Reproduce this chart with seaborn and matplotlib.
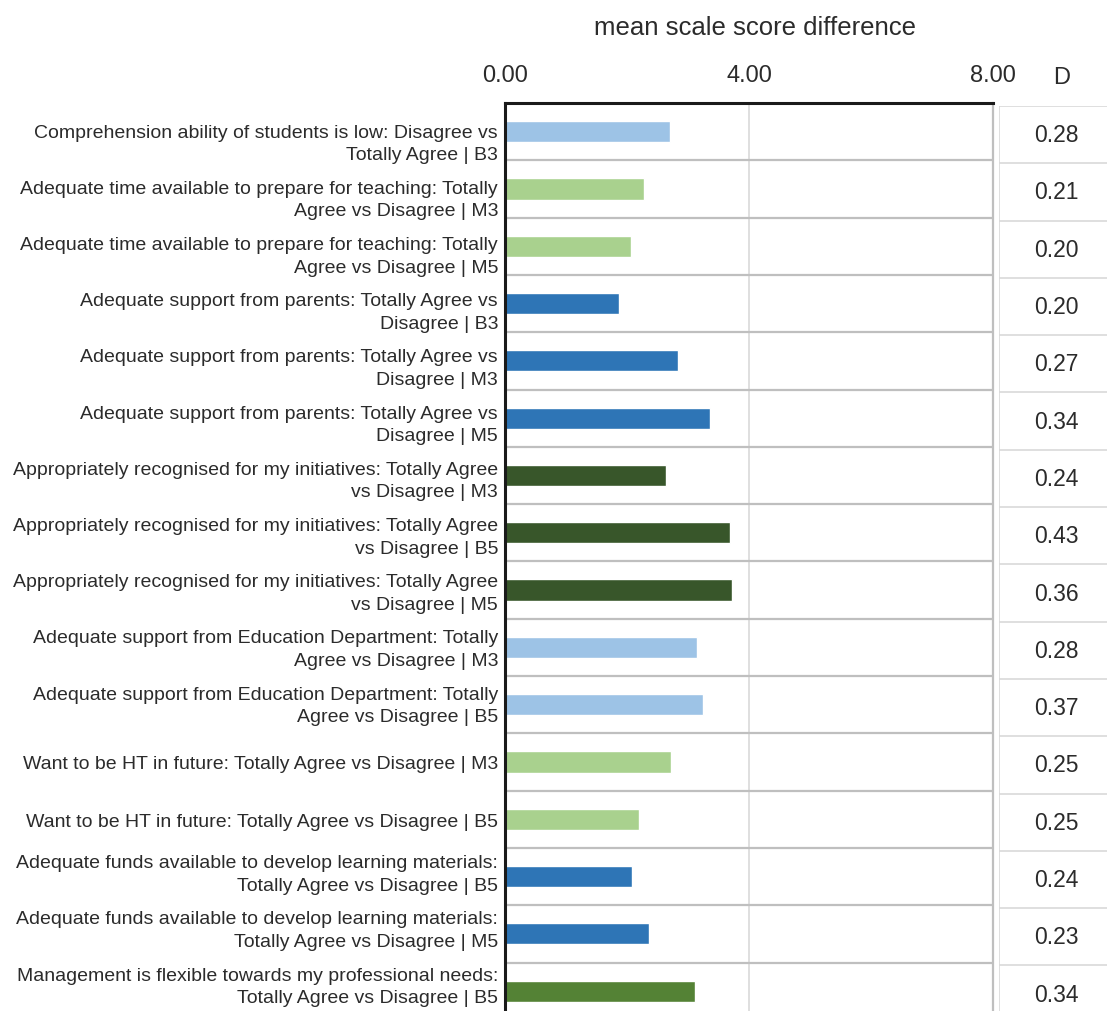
import pandas as pd
import matplotlib
matplotlib.use("Agg")
import matplotlib.pyplot as plt
import matplotlib.transforms as mtransforms
import seaborn as sns

# ---- data ----
labels = [
    "Comprehension ability of students is low: Disagree vs\nTotally Agree | B3",
    "Adequate time available to prepare for teaching: Totally\nAgree vs Disagree | M3",
    "Adequate time available to prepare for teaching: Totally\nAgree vs Disagree | M5",
    "Adequate support from parents: Totally Agree vs\nDisagree | B3",
    "Adequate support from parents: Totally Agree vs\nDisagree | M3",
    "Adequate support from parents: Totally Agree vs\nDisagree | M5",
    "Appropriately recognised for my initiatives: Totally Agree\nvs Disagree | M3",
    "Appropriately recognised for my initiatives: Totally Agree\nvs Disagree | B5",
    "Appropriately recognised for my initiatives: Totally Agree\nvs Disagree | M5",
    "Adequate support from Education Department: Totally\nAgree vs Disagree | M3",
    "Adequate support from Education Department: Totally\nAgree vs Disagree | B5",
    "Want to be HT in future: Totally Agree vs Disagree | M3",
    "Want to be HT in future: Totally Agree vs Disagree | B5",
    "Adequate funds available to develop learning materials:\nTotally Agree vs Disagree | B5",
    "Adequate funds available to develop learning materials:\nTotally Agree vs Disagree | M5",
    "Management is flexible towards my professional needs:\nTotally Agree vs Disagree | B5",
]
score_diff = [2.70, 2.28, 2.07, 1.87, 2.83, 3.36, 2.64, 3.69, 3.72,
              3.14, 3.25, 2.72, 2.19, 2.09, 2.36, 3.12]
d_values = ["0.28", "0.21", "0.20", "0.20", "0.27", "0.34", "0.24", "0.43",
            "0.36", "0.28", "0.37", "0.25", "0.25", "0.24", "0.23", "0.34"]
bar_colors = ["#9DC3E6", "#A9D18E", "#A9D18E", "#2E75B6", "#2E75B6", "#2E75B6",
              "#38562A", "#38562A", "#38562A", "#9DC3E6", "#9DC3E6",
              "#A9D18E", "#A9D18E", "#2E75B6", "#2E75B6", "#548235"]
x_ticks = [0, 4, 8]
x_ticklabels = ["0.00", "4.00", "8.00"]

df = pd.DataFrame({"label": labels, "score": score_diff})

sns.set_style("white")
plt.rcParams["font.family"] = ["Liberation Sans", "DejaVu Sans"]
txt_col = "#2b2b2b"

W, H = 1107, 1012
fig = plt.figure(figsize=(W / 100, H / 100), dpi=100)

# main axes placed in pixel terms
left_px, right_px, top_px = 505, 993, 104
row_h = 57.3
ax = fig.add_axes([left_px / W, 0, (right_px - left_px) / W, 1 - top_px / H])

sns.barplot(data=df, y="label", x="score", hue="label", palette=bar_colors,
            legend=False, orient="h", width=0.37, ax=ax, saturation=1)

n = len(labels)
ax.set_xlim(0, 8)
ax.set_ylim((H - top_px) / row_h - 0.5, -0.5)
ax.set_xticks(x_ticks)
ax.set_xticklabels(x_ticklabels, fontsize=17, color=txt_col)
ax.xaxis.tick_top()
ax.tick_params(axis="x", length=0, pad=12)
ax.tick_params(axis="y", length=0, pad=5, labelsize=14, labelcolor=txt_col)
ax.set_xlabel("")
ax.set_ylabel("")

# y labels: wider line spacing; two-line ones drift slightly against the
# bars in the original (a bit low at the top, a bit high at the bottom)
for i, t in enumerate(ax.get_yticklabels()):
    t.set_linespacing(1.42)
    shift = (7 - 1.1 * i) / 100 if "\n" in t.get_text() else 0
    t.set_transform(t.get_transform() +
                    mtransforms.ScaledTranslation(0, -shift, fig.dpi_scale_trans))

ax.axvline(4, color="#d9d9d9", lw=1.2, zorder=0)
for i in range(n - 1):
    ax.axhline(i + 0.5, color="#bfbfbf", lw=1.6, zorder=0)

ax.spines["bottom"].set_visible(False)
ax.spines["top"].set_color("#1a1a1a")
ax.spines["top"].set_linewidth(2.2)
ax.spines["left"].set_color("#1a1a1a")
ax.spines["left"].set_linewidth(2.2)
ax.spines["right"].set_color("#bfbfbf")
ax.spines["right"].set_linewidth(1.6)

fig.text(755 / W, 1 - 28 / H, "mean scale score difference",
         ha="center", va="center", fontsize=18.5, color=txt_col)

# D column
d_left = 999
axd = fig.add_axes([d_left / W, 0, (W - d_left) / W + 0.01, 1 - (top_px + 3) / H])
axd.set_xlim(0, 1)
axd.set_ylim((H - top_px - 3) / row_h - 0.5, -0.5)
axd.axis("off")
axd.axvline(0, color="#d9d9d9", lw=1.2)
for i in range(-1, n - 1):
    axd.axhline(i + 0.5, xmin=0, xmax=1, color="#d9d9d9", lw=1.2)
for i, v in enumerate(d_values):
    axd.text(0.48, i, v, ha="center", va="center", fontsize=16.5, color=txt_col)

fig.text(1062 / W, 1 - 78 / H, "D", ha="center", va="center",
         fontsize=17, color=txt_col)

fig.savefig("out.png", dpi=100)
